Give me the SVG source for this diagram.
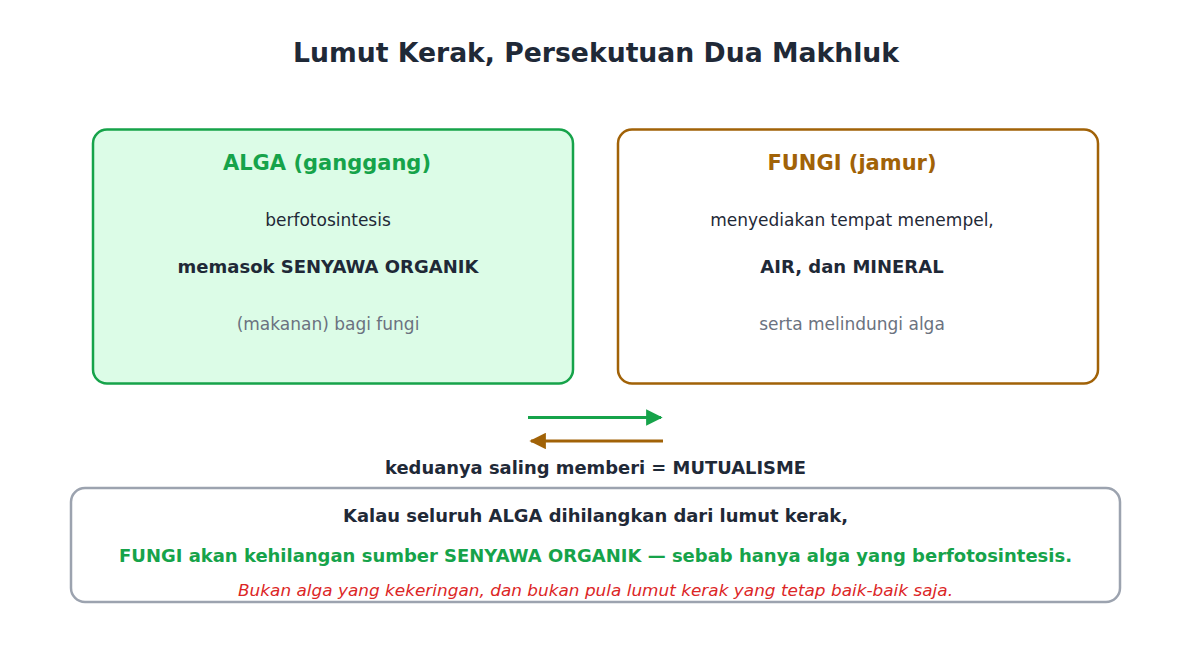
<svg xmlns="http://www.w3.org/2000/svg" width="1191" height="652" viewBox="0 0 1191 652">
<style>
text{font-family:"DejaVu Sans","Liberation Sans",sans-serif;text-anchor:middle}
.title{font-size:26px;font-weight:bold;fill:#1f2937}
.h{font-size:21px;font-weight:bold}
.n{font-size:17px;fill:#1f2937}
.b{font-size:18px;font-weight:bold;fill:#1f2937}
.g{font-size:17px;fill:#6b7280}
.box{stroke-width:2.5}
</style>
<defs>
<marker id="ag" viewBox="0 0 10 10" refX="9" refY="5" markerWidth="5.5" markerHeight="5.5" markerUnits="strokeWidth" orient="auto"><path d="M0,0 L10,5 L0,10 z" fill="#16a34a"/></marker>
<marker id="ab" viewBox="0 0 10 10" refX="9" refY="5" markerWidth="5.5" markerHeight="5.5" markerUnits="strokeWidth" orient="auto"><path d="M0,0 L10,5 L0,10 z" fill="#a16207"/></marker>
</defs>
<rect width="1191" height="652" fill="#ffffff"/>
<text class="title" x="596" y="62" textLength="606" lengthAdjust="spacingAndGlyphs">Lumut Kerak, Persekutuan Dua Makhluk</text>
<g id="alga">
<rect class="box" x="93" y="129.5" width="480" height="254" rx="14" fill="#dcfce7" stroke="#16a34a"/>
<text class="h" x="327" y="170" fill="#16a34a">ALGA (ganggang)</text>
<text class="n" x="328" y="226">berfotosintesis</text>
<text class="b" x="328" y="273">memasok SENYAWA ORGANIK</text>
<text class="g" x="328" y="330">(makanan) bagi fungi</text>
</g>
<g id="fungi">
<rect class="box" x="618" y="129.5" width="480" height="254" rx="14" fill="#ffffff" stroke="#a16207"/>
<text class="h" x="852" y="170" fill="#a16207">FUNGI (jamur)</text>
<text class="n" x="852" y="226">menyediakan tempat menempel,</text>
<text class="b" x="852" y="273">AIR, dan MINERAL</text>
<text class="g" x="852" y="330">serta melindungi alga</text>
</g>
<g id="connectors">
<line x1="528" y1="417.5" x2="661" y2="417.5" stroke="#16a34a" stroke-width="3" marker-end="url(#ag)"/>
<line x1="663" y1="441" x2="531" y2="441" stroke="#a16207" stroke-width="3" marker-end="url(#ab)"/>
</g>
<g id="label">
<text x="595.5" y="474" style="font-size:17px;font-weight:bold;fill:#1f2937" textLength="421" lengthAdjust="spacingAndGlyphs">keduanya saling memberi = MUTUALISME</text>
</g>
<g id="conclusion">
<rect class="box" x="71" y="488" width="1049" height="114" rx="14" fill="#ffffff" stroke="#9ca3af"/>
<text x="595.5" y="522" style="font-size:17px;font-weight:bold;fill:#1f2937" textLength="505" lengthAdjust="spacingAndGlyphs">Kalau seluruh ALGA dihilangkan dari lumut kerak,</text>
<text x="595.5" y="562" style="font-size:17px;font-weight:bold;fill:#16a34a" textLength="953" lengthAdjust="spacingAndGlyphs">FUNGI akan kehilangan sumber SENYAWA ORGANIK — sebab hanya alga yang berfotosintesis.</text>
<text x="595.5" y="596" style="font-size:16px;font-style:italic;fill:#dc2626" textLength="715" lengthAdjust="spacingAndGlyphs">Bukan alga yang kekeringan, dan bukan pula lumut kerak yang tetap baik-baik saja.</text>
</g>
</svg>
